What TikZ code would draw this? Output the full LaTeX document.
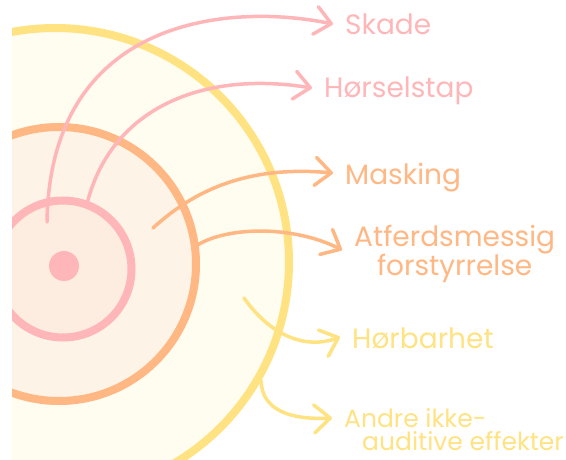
\documentclass[tikz,border=0pt]{standalone}
\usepackage{fontspec}
\setmainfont{Poppins}
\usepackage{color}
\usepackage{tikz}
\usetikzlibrary{arrows.meta, positioning}
\definecolor{ringyellow}{HTML}{FFE282}
\definecolor{ringorange}{HTML}{FFB784}
\definecolor{ringpink}{HTML}{FFB6B8}
\definecolor{fillyellow}{HTML}{FFFCF0}
\definecolor{fillorange}{HTML}{FDF3E6}
\definecolor{fillpink}{HTML}{FDECE0}
\tikzstyle{ring} = [circle, inner sep=0pt, line width=8pt]
\tikzstyle{effect} = [line width=3.5pt, line cap=round, -{Straight Barb[length=16pt, width=28pt, round]}]
\tikzstyle{effecttext} = [anchor=base west, inner xsep=12pt, inner ysep=0pt, align=left, font=\fontsize{28}{24}\selectfont]

\begin{document}
\begin{tikzpicture}[x=1pt, y=-1pt]
\useasboundingbox (0,0) rectangle (566,460);

\begin{scope}
\clip (12,0) rectangle (566,460);
\node (yellowring) [ring, draw=ringyellow, fill=fillyellow, minimum size=468pt] at (55,262) {};
\node (orangering) [ring, draw=ringorange, fill=fillorange, minimum size=274pt] at (59,264) {};
\node (pinkring) [ring, draw=ringpink, fill=fillpink, minimum size=137pt] at (63,269) {};
\node (source) [circle, inner sep=0pt, fill=ringpink, minimum size=30pt] at (64,266) {};
\end{scope}

\coordinate (skadefrom) at (47,222);
\coordinate (maskingfrom) at (153,228);
\coordinate (horbarfrom) at (244,298);

\node (skade) [effecttext, text=ringpink] at (333,35) {Skade};
\node (horsel) [effecttext, text=ringpink] at (312,98) {Hørselstap};
\node (masking) [effecttext, text=ringorange] at (333,185) {Masking};
\node (atferd) [effecttext, text=ringorange, align=center] at (342,276) {Atferdsmessig\\forstyrrelse};
\node (horbar) [effecttext, text=ringyellow] at (340,348) {Hørbarhet};
\node (andre) [effecttext, text=ringyellow, font=\fontsize{25}{23}\selectfont] at (332,450) {Andre ikke-\\\hspace*{18pt}auditive effekter};

\draw [effect, ringpink] (skadefrom) .. controls (50,20) and (225,2) .. ([yshift=11pt]skade.base west);
\draw [effect, ringpink] (pinkring.70) .. controls (112,110) and (200,70) .. ([yshift=10pt]horsel.base west);
\draw [effect, ringorange] (maskingfrom) .. controls (200,185) and (255,166) .. ([yshift=12pt]masking.base west);
\draw [effect, ringorange] (orangering.8) .. controls (230,226) and (295,226) .. ([yshift=26pt]atferd.base west);
\draw [effect, ringyellow] (horbarfrom) .. controls (270,335) and (305,350) .. ([yshift=11pt]horbar.base west);
\draw [effect, ringyellow] (yellowring.-30) .. controls (262,410) and (290,420) .. ([yshift=32pt]andre.base west);

\end{tikzpicture}
\end{document}
